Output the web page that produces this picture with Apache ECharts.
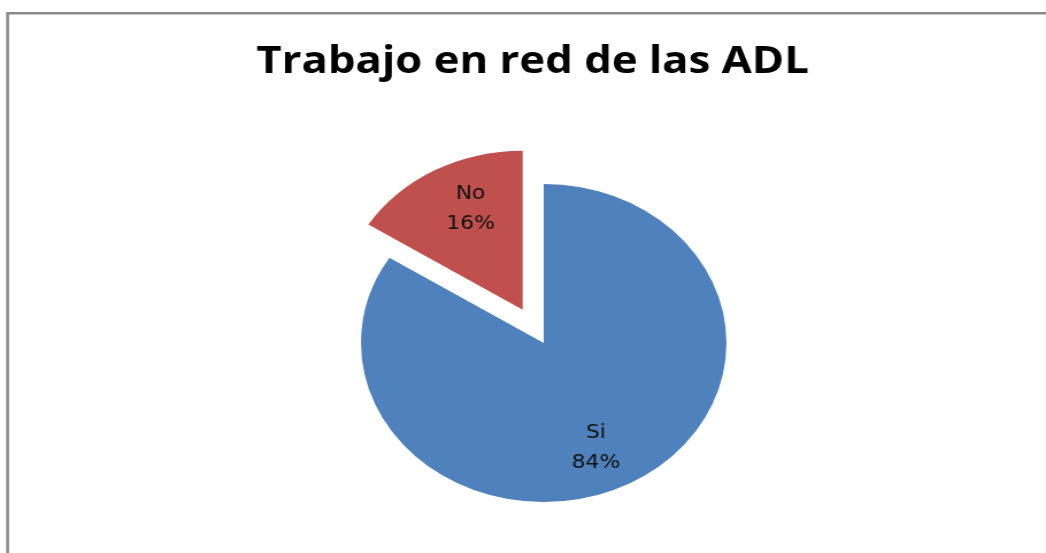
<!DOCTYPE html>
<html>
<head>
<meta charset="utf-8">
<script src="https://cdn.jsdelivr.net/npm/echarts@6/dist/echarts.min.js"></script>
<style>
  html, body { margin: 0; padding: 0; background: #ffffff; overflow: hidden; }
  #wrap { width: 1046px; height: 553px; overflow: hidden; position: relative; }
  #chart { width: 910px; height: 553px; transform-origin: 0 0; transform: scaleX(1.1495); }
</style>
</head>
<body>
<div id="wrap"><div id="chart"></div></div>
<script>
const titleText = 'Trabajo en red de las ADL';
const categories = ['Si', 'No'];
const values = [84, 16];
const colors = ['#4F81BD', '#C0504D'];
const exploded = [false, true];

const chart = echarts.init(document.getElementById('chart'), null, { renderer: 'canvas' });

const pieData = categories.map((c, i) => ({
  name: c, value: values[i], selected: exploded[i],
  itemStyle: { color: colors[i] }
}));
// small label nudges to mimic the original label placement
const labelNudge = { Si: [-11, 3], No: [11, 2] };
const labelData = categories.map((c, i) => ({
  name: c, value: values[i], selected: exploded[i],
  label: { offset: labelNudge[c] },
  select: { label: { offset: labelNudge[c] } }
}));

const center = [473, 343];
const offset = 38;

chart.setOption({
  animation: false,
  title: {
    text: titleText,
    left: 218,
    top: 38,
    textStyle: { fontFamily: 'Open Sans', fontWeight: 'bold', fontSize: 38, color: '#000' }
  },
  graphic: [{
    type: 'polyline',
    shape: { points: [[6.6, 560], [6.6, 13.3], [920, 13.3]] },
    style: { stroke: '#8a8a8a', lineWidth: 2.6, fill: null },
    silent: true
  }],
  series: [{
    type: 'pie',
    center: center,
    radius: [0, 159],
    startAngle: 90,
    clockwise: true,
    selectedMode: 'multiple',
    selectedOffset: offset,
    label: { show: false },
    labelLine: { show: false },
    emphasis: { disabled: true },
    silent: true,
    data: pieData
  }, {
    type: 'pie',
    center: center,
    radius: [100, 128],
    startAngle: 90,
    clockwise: true,
    selectedMode: 'multiple',
    selectedOffset: offset,
    itemStyle: { color: 'rgba(0,0,0,0)' },
    label: {
      show: true,
      position: 'inside',
      formatter: '{b}\n{d}%',
      fontFamily: 'DejaVu Sans',
      fontSize: 19,
      lineHeight: 30,
      color: '#111'
    },
    labelLine: { show: false },
    emphasis: { disabled: true },
    silent: true,
    data: labelData
  }]
});
</script>
</body>
</html>
